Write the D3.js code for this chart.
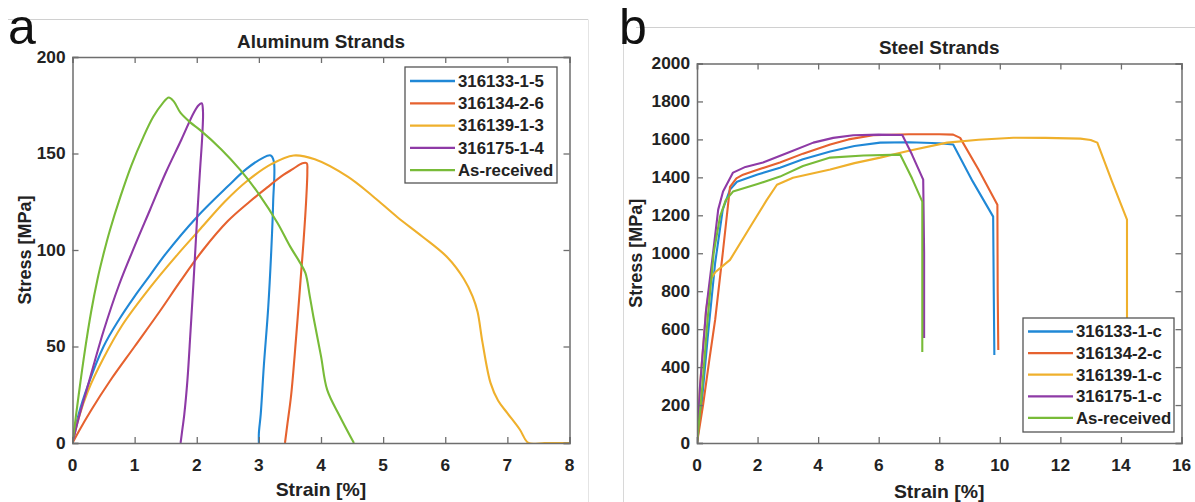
<!DOCTYPE html>
<html><head><meta charset="utf-8">
<script src="https://cdn.jsdelivr.net/npm/d3@7"></script>
<style>
html,body{margin:0;padding:0;background:#fff;}
svg{display:block;font-family:"Liberation Sans",Arial,sans-serif;}
</style></head>
<body>
<svg id="c" width="1195" height="502"></svg>
<script>
// ---------- Data: Aluminum strands ----------
const alNames = ["316133-1-5","316134-2-6","316139-1-3","316175-1-4","As-received"];
const alXTicks = [0,1,2,3,4,5,6,7,8];
const alYTicks = [0,50,100,150,200];

const al1Strain = [0,0.1,0.25,0.5,0.75,1.0,1.25,1.5,2.0,2.5,2.8,3.05,3.19,3.24,3.23,3.2,3.15,3.08,3.03,3.0,3.0];
const al1Stress = [0,15,30,50,64,76,87,98,117,133,142,147.5,149,146,125,100,70,40,15,5,0];

const al2Strain = [0,0.1,0.3,0.6,1.0,1.4,1.74,2.1,2.5,2.85,3.14,3.4,3.55,3.7,3.77,3.78,3.76,3.72,3.67,3.6,3.52,3.46,3.42];
const al2Stress = [0,6,17,32,50,68,84,100,115,125,132.6,139,142,145,145,141,125,105,84,55,25,10,0];

const al3Strain = [0,0.1,0.25,0.5,0.8,1.26,1.7,2.06,2.45,2.82,3.2,3.56,3.9,4.43,4.83,5.23,5.63,6.04,6.3,6.44,6.52,6.6,6.73,6.85,7.0,7.2,7.34,7.6,8.0];
const al3Stress = [0,13,27,44,61,81,98,111,125,136,144.5,149,147,138,128,117,107,96,85,76,68,52,31,22,15.5,7,0,0,0];

const al4Strain = [0,0.1,0.25,0.5,0.75,1.0,1.25,1.5,1.75,1.95,2.03,2.08,2.1,2.09,2.05,2.01,1.95,1.9,1.85,1.8,1.76,1.74];
const al4Stress = [0,13,30,58,82,102,121,140,157,171,175,176,172,160,140,119,84.5,58,32.6,15,5,0];

const al5Strain = [0,0.1,0.2,0.3,0.4,0.5,0.6,0.77,0.95,1.14,1.3,1.45,1.55,1.63,1.74,1.9,2.06,2.4,2.7,3.0,3.3,3.5,3.67,3.75,3.82,3.88,4.0,4.1,4.3,4.53];
const al5Stress = [0,25,48,68,84.5,98,110,127.5,144,158.5,169,176,179,177,171,166,162,152,141.5,129,114,102,93,88,76,65,45,27.5,14,0];

// ---------- Data: Steel strands ----------
const stNames = ["316133-1-c","316134-2-c","316139-1-c","316175-1-c","As-received"];
const stXTicks = [0,2,4,6,8,10,12,14,16];
const stYTicks = [0,200,400,600,800,1000,1200,1400,1600,1800,2000];

const st1Strain = [0,0.15,0.35,0.6,0.85,1.09,1.32,2.0,2.74,3.5,4.4,5.2,6.05,7.0,8.0,8.46,9.1,9.78,9.8,9.82];
const st1Stress = [0,200,550,950,1230,1335,1377,1415,1451,1495,1536,1565,1583,1585,1580,1573,1380,1193,800,464];

const st2Strain = [0,0.2,0.4,0.6,0.85,1.09,1.3,1.52,2.0,2.74,3.5,4.4,5.0,5.82,7.0,8.0,8.46,8.69,9.3,9.92,9.93,9.95];
const st2Stress = [0,200,430,650,1000,1350,1395,1414,1440,1478,1525,1573,1600,1622,1627,1627,1625,1608,1440,1256,800,490];

const st3Strain = [0,0.1,0.3,0.45,0.6,1.09,1.8,2.3,2.64,3.17,4.4,5.2,6.05,7.0,8.26,9.3,10.45,11.5,12.66,13.0,13.22,13.7,14.2,14.2];
const st3Stress = [0,300,700,860,900,965,1150,1280,1361,1398,1441,1475,1504,1540,1583,1598,1609,1608,1604,1597,1583,1380,1177,600];

const st4Strain = [0,0.1,0.3,0.53,0.7,0.86,1.19,1.6,2.18,3.0,3.84,4.5,5.16,6.0,6.78,7.1,7.47,7.5,7.5];
const st4Stress = [0,300,700,1000,1230,1325,1425,1455,1478,1530,1583,1608,1622,1625,1623,1520,1388,1000,554];

const st5Strain = [0,0.15,0.35,0.55,0.76,0.95,1.19,2.0,2.74,3.5,4.4,5.5,6.71,7.1,7.44,7.44];
const st5Stress = [0,250,650,1000,1193,1280,1325,1365,1404,1460,1504,1515,1520,1395,1272,480];

const colors = ["#2088d6","#e6622f","#efb02c","#8e3aa6","#78bb38"];

// ---------- Drawing ----------
const svg = d3.select("#c");
const SX = 1.08; // horizontal stretch of text, as in the reference image

function txt(g, x, y, s, opts) {
  return g.append("text")
    .attr("transform", `translate(${x},${y}) scale(${opts.sx || SX},1)`)
    .attr("font-size", opts.size)
    .attr("font-weight", opts.weight || "bold")
    .attr("fill", opts.fill || "#222")
    .attr("text-anchor", opts.anchor || "middle")
    .text(s);
}

// frame lines of the composite figure
svg.append("line").attr("x1",8).attr("x2",588).attr("y1",19.5).attr("y2",19.5).attr("stroke","#d0d0d0");
svg.append("line").attr("x1",588.5).attr("x2",588.5).attr("y1",19.5).attr("y2",502).attr("stroke","#e4e4e4");
svg.append("line").attr("x1",636).attr("x2",1195).attr("y1",27.5).attr("y2",27.5).attr("stroke","#d0d0d0");
svg.append("line").attr("x1",623.5).attr("x2",623.5).attr("y1",30).attr("y2",502).attr("stroke","#d8d8d8");

function panel(cfg) {
  const g = svg.append("g");
  const x = d3.scaleLinear().domain(cfg.xDomain).range([cfg.x0, cfg.x1]);
  const y = d3.scaleLinear().domain(cfg.yDomain).range([cfg.y1, cfg.y0]);

  const plot = g.append("g");
  const clip = "clip" + cfg.id;
  g.append("clipPath").attr("id", clip).append("rect")
    .attr("x", cfg.x0).attr("y", cfg.y0 - 2).attr("width", cfg.x1 - cfg.x0).attr("height", cfg.y1 - cfg.y0 + 2);

  const line = d3.line().x(d => x(d[0])).y(d => y(d[1])).curve(cfg.curve);
  cfg.series.forEach((s, i) => {
    const pts = s.xs.map((v, k) => [v, s.ys[k]]);
    plot.append("path").attr("d", line(pts))
      .attr("fill", "none").attr("stroke", colors[i]).attr("stroke-width", 2.1)
      .attr("stroke-linejoin", "round").attr("clip-path", `url(#${clip})`);
  });

  const axColor = "#6e6e6e";
  const tl = 6;
  const bottom = d3.axisBottom(x).tickValues(cfg.xTicks).tickSize(-tl).tickFormat("");
  const top = d3.axisTop(x).tickValues(cfg.xTicks).tickSize(-tl).tickFormat("");
  const left = d3.axisLeft(y).tickValues(cfg.yTicks).tickSize(-tl).tickFormat("");
  const right = d3.axisRight(y).tickValues(cfg.yTicks).tickSize(-tl).tickFormat("");
  const axes = [
    g.append("g").attr("transform", `translate(0,${cfg.y1})`).call(bottom),
    g.append("g").attr("transform", `translate(0,${cfg.y0})`).call(top),
    g.append("g").attr("transform", `translate(${cfg.x0},0)`).call(left),
    g.append("g").attr("transform", `translate(${cfg.x1},0)`).call(right)
  ];
  axes.forEach(a => {
    a.selectAll("path").attr("stroke", axColor).attr("stroke-width", 1.5);
    a.selectAll("line").attr("stroke", axColor).attr("stroke-width", 1.3);
  });

  cfg.xTicks.forEach(v => txt(g, x(v), cfg.y1 + 28, String(v), {size: 16}));
  cfg.yTicks.forEach(v => txt(g, cfg.x0 - 7, y(v) + 5.5, String(v), {size: 16, anchor: "end"}));

  txt(g, (cfg.x0 + cfg.x1) / 2, cfg.titleY, cfg.title, {size: 17.5});
  txt(g, (cfg.x0 + cfg.x1) / 2, cfg.xLabelY, "Strain [%]", {size: 18});
  g.append("text")
    .attr("transform", `translate(${cfg.yLabelX},${(cfg.y0 + cfg.y1) / 2}) rotate(-90)`)
    .attr("font-size", 18).attr("font-weight", "bold").attr("fill", "#222")
    .attr("text-anchor", "middle").text("Stress [MPa]");

  g.append("text").attr("x", cfg.letterX).attr("y", cfg.letterY)
    .attr("font-size", 50).attr("fill", "#111").text(cfg.letter);

  const L = cfg.legend;
  const lg = g.append("g");
  lg.append("rect").attr("x", L.x).attr("y", L.y).attr("width", L.w).attr("height", L.h)
    .attr("fill", "#fff").attr("stroke", "#555").attr("stroke-width", 1.3);
  cfg.names.forEach((n, i) => {
    const yy = L.y + L.first + i * L.step;
    lg.append("line").attr("x1", L.x + 5).attr("x2", L.x + 50).attr("y1", yy).attr("y2", yy)
      .attr("stroke", colors[i]).attr("stroke-width", 2.3);
    txt(lg, L.x + 53, yy + 5.8, n, {size: 16, anchor: "start", sx: 1.05});
  });
}

panel({
  id: "a", x0: 72.5, x1: 569.5, y0: 57, y1: 443,
  xDomain: [0, 8], yDomain: [0, 200], xTicks: alXTicks, yTicks: alYTicks,
  curve: d3.curveCatmullRom.alpha(0.5),
  series: [
    {xs: al1Strain, ys: al1Stress}, {xs: al2Strain, ys: al2Stress}, {xs: al3Strain, ys: al3Stress},
    {xs: al4Strain, ys: al4Stress}, {xs: al5Strain, ys: al5Stress}
  ],
  names: alNames, title: "Aluminum Strands", titleY: 48, xLabelY: 496, yLabelX: 31,
  letter: "a", letterX: 8, letterY: 44,
  legend: {x: 405, y: 67, w: 152, h: 116, first: 14, step: 22.3}
});

panel({
  id: "b", x0: 697, x1: 1181.5, y0: 63.5, y1: 443,
  xDomain: [0, 16], yDomain: [0, 2000], xTicks: stXTicks, yTicks: stYTicks,
  curve: d3.curveLinear,
  series: [
    {xs: st1Strain, ys: st1Stress}, {xs: st2Strain, ys: st2Stress}, {xs: st3Strain, ys: st3Stress},
    {xs: st4Strain, ys: st4Stress}, {xs: st5Strain, ys: st5Stress}
  ],
  names: stNames, title: "Steel Strands", titleY: 54, xLabelY: 498, yLabelX: 642,
  letter: "b", letterX: 619, letterY: 44,
  legend: {x: 1023, y: 318, w: 151, h: 114, first: 13.5, step: 21.6}
});
</script>
</body></html>
